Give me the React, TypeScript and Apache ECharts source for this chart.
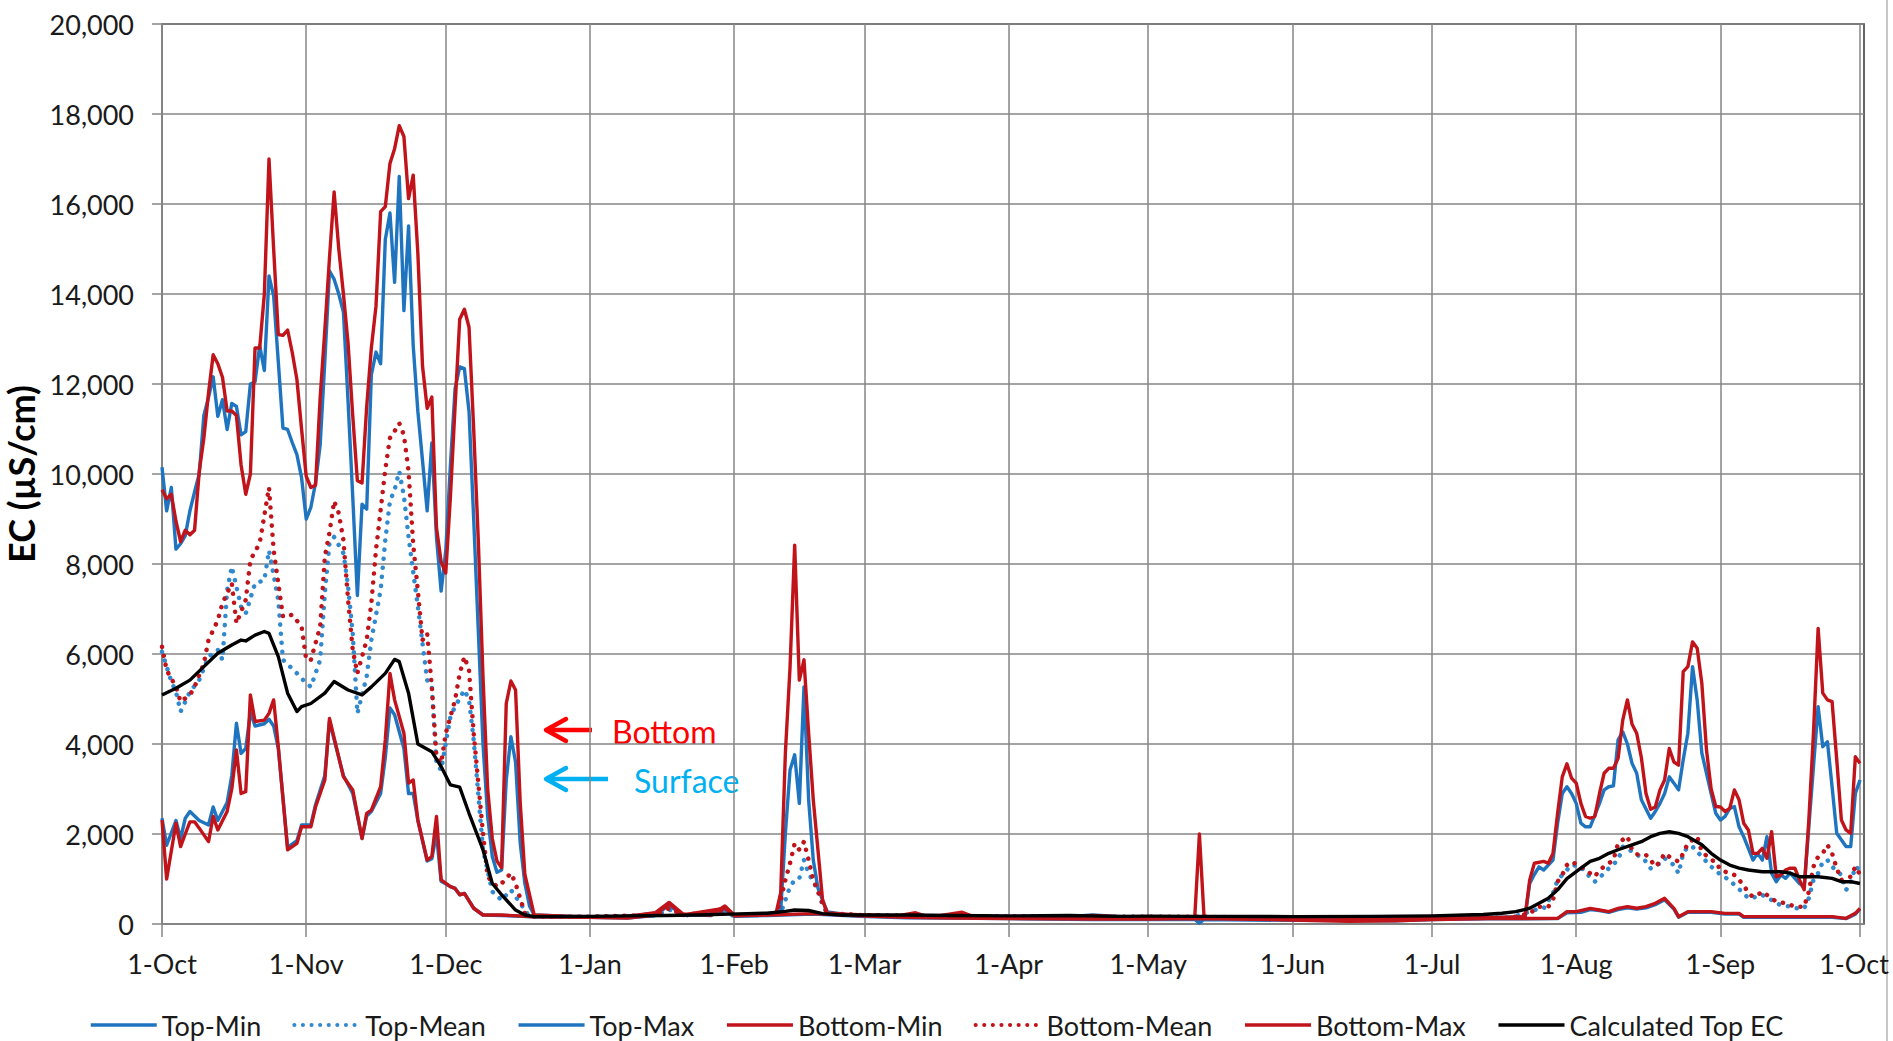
import React, { useEffect, useRef } from 'react';
import * as echarts from 'echarts';

const FONT = 'Lato, "Liberation Sans", sans-serif';

// x positions are day numbers counted from 1-Oct (0) to the next 1-Oct (365)
const monthTickDays = [0, 31, 61, 92, 123, 151, 182, 212, 243, 273, 304, 335, 365];
const monthTickLabels = ['1-Oct', '1-Nov', '1-Dec', '1-Jan', '1-Feb', '1-Mar', '1-Apr', '1-May', '1-Jun', '1-Jul', '1-Aug', '1-Sep', '1-Oct'];
const seriesNames = ['Top-Min', 'Top-Mean', 'Top-Max', 'Bottom-Min', 'Bottom-Mean', 'Bottom-Max', 'Calculated Top EC'];

const topMin: [number, number][] = [
  [0, 2350], [1, 1750], [3, 2300], [4, 1900], [5, 2350], [6, 2500], [7, 2400], [8, 2300], [10, 2200], [11, 2600], [12, 2300], [14, 2700], [15, 3300], [16, 4460], [17, 3790], [18, 3900], [19, 4700], [20, 4400], [22, 4450], [23, 4550], [24, 4400], [25, 3900], [27, 1700], [29, 1850], [30, 2200], [32, 2200], [33, 2650], [35, 3300], [36, 4500], [39, 3300], [41, 2900], [43, 1900], [44, 2400], [45, 2500], [47, 2900], [48, 3700], [49, 4800], [50, 4650], [52, 3900], [53, 2900], [54, 2900], [55, 2300], [57, 1400], [58, 1450], [59, 2000], [60, 950], [62, 830], [63, 790], [64, 650], [65, 680], [67, 350], [69, 200], [73, 190], [80, 160],
  [92, 150], [100, 130], [106, 190], [109, 420], [112, 190], [121, 320], [123, 170], [130, 190], [140, 220], [150, 170], [160, 140], [182, 120], [200, 100], [212, 100], [222, 100], [223, 20], [224, 100], [243, 80], [265, 70], [273, 100], [285, 115], [300, 120],
  [302, 250], [305, 260], [307, 320], [309, 300], [311, 260], [313, 320], [315, 360], [317, 330], [319, 360], [321, 430], [323, 540], [325, 330], [326, 150], [328, 260], [330, 260], [333, 260], [336, 220], [339, 220], [340, 150], [351, 150], [359, 150], [362, 120], [364, 220], [365, 330],
];

const topMean: [number, number][] = [
  [0, 6050], [2, 5390], [3, 5160], [4, 4720], [6, 5160], [8, 5420], [10, 5940], [12, 6090], [13, 5870], [14, 7420], [15, 7940], [17, 7050], [18, 6900], [20, 7570], [22, 7640], [23, 8300], [25, 7200], [26, 5870], [29, 5570], [31, 5350], [32, 5270], [34, 5870], [35, 7350], [36, 8460], [37, 8600], [39, 8240], [40, 7500], [41, 6460], [42, 4680], [44, 5500], [45, 6310], [47, 7420], [48, 8530], [49, 9400], [50, 9650], [51, 10060], [52, 9510], [53, 8600], [55, 7050], [57, 5420], [58, 5270], [59, 3570], [60, 3420], [62, 4610], [63, 4830], [65, 5200], [66, 4980], [67, 4090], [69, 1650], [71, 720], [73, 530], [75, 760], [77, 460], [79, 165],
  [92, 160], [106, 190], [109, 320], [112, 190], [121, 260], [123, 180], [133, 240], [134, 534], [135, 830], [136, 978], [137, 1015], [138, 1422], [139, 1126], [141, 756], [142, 423], [143, 237], [150, 190], [170, 170], [200, 160], [222, 150], [223, 20], [224, 150], [250, 130], [273, 130], [290, 140],
  [295, 311], [297, 348], [299, 682], [300, 978], [302, 1200], [303, 1311], [305, 1274], [306, 1126], [307, 1052], [308, 941], [310, 1126], [311, 1237], [313, 1422], [314, 1719], [315, 1682], [317, 1534], [318, 1497], [319, 1385], [320, 1237], [322, 1348], [323, 1460], [325, 1311], [326, 1126], [327, 1570], [328, 1719], [329, 1719], [331, 1497], [333, 1274], [334, 1200], [335, 1089], [337, 978], [338, 867], [340, 682], [341, 571], [343, 608], [344, 645], [346, 534], [347, 460], [348, 423], [350, 386], [351, 349], [353, 349], [354, 571], [355, 978], [356, 1126], [357, 1385], [358, 1422], [359, 1274], [361, 1089], [362, 756], [363, 904], [364, 1274], [365, 1200],
];

const topMax: [number, number][] = [
  [0, 10150], [1, 9180], [2, 9700], [3, 8330], [4, 8450], [5, 8630], [6, 9180], [7, 9600], [8, 10000], [9, 11300], [10, 11700], [11, 12160], [12, 11280], [13, 11650], [14, 10990], [15, 11570], [16, 11500], [17, 10870], [18, 10940], [19, 12000], [20, 12050], [21, 12850], [22, 12300], [23, 14400], [24, 13960], [25, 12490], [26, 11020], [27, 10990], [28, 10700], [29, 10430], [30, 9920], [31, 9000], [32, 9260], [33, 9800], [34, 10650], [35, 12500], [36, 14510], [37, 14330], [38, 14000], [39, 13600], [40, 11610], [41, 9500], [42, 7300], [43, 9330], [44, 9220], [45, 12200], [46, 12710], [47, 12450], [48, 15210], [49, 15800], [50, 14260], [51, 16610], [52, 13630], [53, 15510], [54, 12850], [55, 11390], [56, 10300], [57, 9180], [58, 10690], [59, 8600], [60, 7400], [61, 8300], [62, 10200], [63, 11900], [64, 12380], [65, 12340], [66, 11390], [67, 9000], [68, 6500], [69, 4000], [70, 2400], [71, 1500], [72, 1150], [73, 1200], [74, 3200], [75, 4160], [76, 3600], [77, 1800], [78, 900], [79, 400], [80, 200],
  [88, 170], [92, 160], [100, 170], [106, 240], [109, 430], [112, 210], [118, 190], [121, 350], [123, 190], [128, 190], [132, 250], [133, 310], [134, 2015], [135, 3420], [136, 3760], [137, 2680], [138, 5270], [139, 2760], [140, 1420], [141, 800], [142, 530], [143, 270], [147, 210], [151, 190], [160, 180], [170, 160], [182, 150], [195, 160], [200, 200], [210, 140], [222, 140], [223, 30], [224, 140], [240, 120], [260, 100], [280, 130], [293, 160],
  [294, 900], [295, 1100], [296, 1270], [297, 1200], [299, 1420], [300, 2240], [301, 2900], [302, 3050], [303, 2900], [304, 2680], [305, 2240], [306, 2160], [307, 2160], [309, 2680], [310, 2980], [311, 3050], [312, 3070], [313, 4090], [314, 4270], [315, 4000], [316, 3570], [317, 3350], [318, 2760], [320, 2350], [321, 2500], [322, 2680], [323, 2900], [324, 3270], [325, 3130], [326, 2980], [327, 3650], [328, 4240], [329, 5720], [330, 4980], [331, 3800], [333, 2900], [334, 2460], [335, 2310], [336, 2390], [337, 2570], [338, 2610], [339, 2160], [340, 1940], [342, 1420], [343, 1570], [344, 1420], [345, 1940], [346, 1130], [347, 940], [348, 1090], [349, 1015], [350, 1130], [352, 900], [353, 830], [354, 2160], [355, 3500], [356, 4830], [357, 3940], [358, 4050], [359, 3050], [360, 2015], [362, 1720], [363, 1720], [364, 2900], [365, 3200],
];

const bottomMin: [number, number][] = [
  [0, 2310], [1, 1000], [3, 2240], [4, 1720], [5, 2000], [6, 2270], [7, 2270], [8, 2130], [10, 1830], [11, 2390], [12, 2090], [14, 2500], [15, 3000], [16, 3870], [17, 2900], [18, 2940], [19, 5090], [20, 4500], [22, 4530], [23, 4680], [24, 4980], [25, 3940], [27, 1650], [29, 1790], [30, 2160], [32, 2160], [33, 2600], [35, 3200], [36, 4570], [39, 3270], [41, 2980], [43, 1900], [44, 2460], [45, 2530], [47, 3050], [48, 4090], [49, 5570], [50, 4980], [52, 4240], [53, 3130], [54, 3200], [55, 2310], [57, 1420], [58, 1500], [59, 2390], [60, 980], [62, 830], [63, 790], [64, 650], [65, 680], [67, 350], [69, 200], [73, 200], [80, 160],
  [92, 150], [100, 130], [106, 200], [109, 450], [112, 200], [121, 350], [123, 180], [130, 200], [140, 230], [150, 180], [160, 150], [170, 130], [182, 120], [200, 110], [212, 110], [223, 120], [243, 90], [255, 60], [265, 70], [273, 100], [285, 120], [300, 126],
  [302, 274], [304, 274], [307, 348], [309, 311], [311, 274], [313, 348], [315, 385], [317, 349], [319, 386], [321, 460], [323, 571], [325, 349], [326, 163], [328, 274], [330, 274], [333, 274], [336, 237], [339, 237], [340, 163], [351, 163], [359, 163], [362, 126], [364, 237], [365, 349],
];

const bottomMean: [number, number][] = [
  [0, 6160], [1, 5640], [3, 5270], [4, 4940], [6, 5090], [7, 5270], [9, 5790], [10, 6310], [12, 6750], [13, 7130], [15, 7570], [16, 6680], [18, 7200], [19, 8090], [21, 8460], [23, 9700], [24, 8310], [26, 6830], [28, 6870], [30, 6610], [31, 5870], [32, 5870], [34, 6610], [35, 8160], [36, 8700], [37, 9400], [38, 9130], [39, 8530], [40, 7200], [41, 6090], [42, 5570], [44, 6310], [45, 7130], [46, 8310], [47, 9200], [48, 10100], [49, 10800], [50, 10950], [51, 11130], [52, 10870], [53, 10060], [54, 8440], [55, 7400], [56, 6310], [57, 6460], [58, 5270], [59, 3720], [60, 3570], [61, 4240], [63, 4980], [64, 5570], [65, 5940], [66, 5640], [67, 4240], [69, 2015], [70, 1050], [72, 830], [73, 900], [75, 1130], [76, 900], [78, 240], [80, 165],
  [92, 160], [106, 200], [109, 350], [112, 200], [121, 300], [123, 190], [132, 230], [133, 534], [134, 980], [135, 1350], [136, 1790], [137, 1650], [138, 1830], [139, 1420], [140, 980], [142, 460], [143, 237], [150, 200], [170, 170], [200, 160], [223, 160], [250, 130], [273, 130], [290, 140],
  [294, 237], [296, 385], [298, 385], [299, 534], [300, 941], [301, 1089], [302, 1311], [303, 1385], [305, 1274], [306, 1200], [308, 1052], [309, 1200], [310, 1274], [312, 1422], [313, 1793], [315, 1950], [316, 1650], [317, 1550], [318, 1534], [319, 1534], [320, 1422], [321, 1274], [322, 1385], [323, 1570], [324, 1497], [325, 1440], [326, 1385], [327, 1570], [328, 1793], [329, 1867], [330, 1941], [331, 1608], [333, 1422], [334, 1385], [335, 1200], [337, 1126], [338, 1089], [340, 867], [341, 682], [342, 608], [343, 645], [344, 719], [346, 571], [347, 497], [349, 460], [350, 423], [351, 386], [353, 386], [354, 719], [355, 1274], [356, 1497], [357, 1570], [358, 1756], [359, 1570], [360, 1237], [361, 978], [363, 1052], [364, 1274], [365, 1100],
];

const bottomMax: [number, number][] = [
  [0, 9650], [1, 9450], [2, 9550], [3, 8950], [4, 8500], [5, 8750], [6, 8650], [7, 8750], [8, 10050], [9, 10800], [10, 11800], [11, 12650], [12, 12450], [13, 12150], [14, 11400], [15, 11400], [16, 11300], [17, 10200], [18, 9550], [19, 10000], [20, 12800], [21, 12800], [22, 14000], [23, 17000], [24, 15000], [25, 13100], [26, 13080], [27, 13200], [28, 12700], [29, 12100], [30, 11000], [31, 9950], [32, 9700], [33, 9750], [34, 11700], [35, 13200], [36, 14800], [37, 16270], [38, 15000], [39, 14000], [40, 12900], [41, 11300], [42, 9850], [43, 9800], [44, 11500], [45, 12800], [46, 13730], [47, 15830], [48, 15940], [49, 16900], [50, 17230], [51, 17740], [52, 17500], [53, 16120], [54, 16640], [55, 14900], [56, 12400], [57, 11460], [58, 11710], [59, 8810], [60, 8050], [61, 7800], [62, 9500], [63, 11500], [64, 13440], [65, 13660], [66, 13260], [67, 11000], [68, 8500], [69, 5500], [70, 3000], [71, 1900], [72, 1400], [73, 1250], [74, 4900], [75, 5400], [76, 5200], [77, 2700], [78, 1100], [79, 650], [80, 200],
  [88, 170], [92, 160], [100, 170], [106, 250], [109, 480], [112, 220], [118, 200], [121, 400], [123, 200], [128, 200], [132, 240], [133, 700], [134, 3800], [135, 5700], [136, 8420], [137, 5420], [138, 5870], [139, 4240], [140, 2760], [141, 1650], [142, 530], [143, 240], [147, 220], [151, 200], [158, 180], [162, 250], [165, 150], [172, 260], [175, 140], [182, 150], [190, 130], [200, 190], [210, 140], [222, 150], [223, 2000], [224, 150], [235, 120], [243, 110], [250, 90], [260, 100], [270, 120], [280, 130], [290, 150], [293, 160],
  [294, 980], [295, 1350], [297, 1390], [298, 1350], [299, 1570], [300, 2460], [301, 3270], [302, 3560], [303, 3240], [304, 3130], [305, 2680], [306, 2390], [307, 2350], [308, 2390], [309, 2900], [310, 3350], [311, 3460], [312, 3460], [313, 3680], [314, 4530], [315, 4980], [316, 4440], [317, 4240], [318, 3700], [319, 2900], [320, 2550], [321, 2600], [322, 2980], [323, 3200], [324, 3900], [325, 3600], [326, 3530], [327, 5610], [328, 5720], [329, 6270], [330, 6130], [331, 5350], [332, 3870], [333, 3000], [334, 2610], [335, 2600], [336, 2500], [337, 2570], [338, 2980], [339, 2760], [340, 2240], [341, 2090], [342, 1570], [343, 1570], [344, 1680], [345, 1460], [346, 2050], [347, 1050], [348, 1090], [349, 1200], [350, 1240], [351, 1240], [352, 980], [353, 760], [354, 2310], [355, 4240], [356, 6570], [357, 5130], [358, 4980], [359, 4940], [360, 3650], [361, 2310], [362, 2090], [363, 2015], [364, 3720], [365, 3570],
];

const calculatedTop: [number, number][] = [
  [0, 5090], [3, 5240], [6, 5420], [9, 5720], [12, 6015], [15, 6200], [17, 6310], [18, 6290], [20, 6420], [22, 6500], [23, 6460], [25, 5940], [27, 5130], [29, 4720], [30, 4830], [32, 4900], [35, 5130], [37, 5390], [40, 5200], [43, 5090], [45, 5270], [48, 5570], [50, 5880], [51, 5830], [53, 5130], [55, 4000], [58, 3830], [60, 3500], [62, 3090], [64, 3040], [66, 2460], [69, 1650], [71, 900], [73, 650], [76, 310], [78, 200], [80, 165],
  [92, 170], [100, 180], [108, 190], [115, 200], [122, 220], [130, 240], [134, 280], [136, 310], [139, 300], [142, 230], [146, 200], [151, 200], [160, 200], [170, 190], [182, 180], [195, 190], [205, 170], [212, 175], [223, 170], [243, 165], [260, 170], [273, 180], [280, 200], [284, 210],
  [288, 240], [291, 275], [294, 350], [296, 460], [298, 570], [300, 760], [302, 1010], [305, 1240], [307, 1390], [309, 1460], [311, 1570], [313, 1650], [316, 1760], [318, 1830], [320, 1940], [322, 2015], [324, 2050], [326, 2015], [328, 1940], [331, 1760], [333, 1570], [335, 1420], [337, 1310], [339, 1240], [341, 1200], [344, 1160], [348, 1160], [350, 1130], [352, 1050], [356, 1050], [359, 1015], [361, 940], [363, 940], [365, 900],
];

const seriesData = [topMin, topMean, topMax, bottomMin, bottomMean, bottomMax, calculatedTop];
const seriesColors = ['#1F74C0', '#3189CF', '#1F74C0', '#C0141A', '#C0141A', '#C0141A', '#000000'];
const seriesDotted = [false, true, false, false, true, false, false];

const fmtThousands = (v: number) => String(v).replace(/\B(?=(\d{3})+(?!\d))/g, ',');

export default function App() {
  const ref = useRef<HTMLDivElement>(null);
  useEffect(() => {
    const chart = echarts.init(ref.current as HTMLDivElement, undefined, { renderer: 'svg' });
    const series = seriesNames.map((name, i) => ({
      name,
      type: 'line',
      data: seriesData[i],
      symbol: 'none',
      showSymbol: false,
      silent: true,
      emphasis: { disabled: true },
      itemStyle: { color: seriesColors[i] },
      lineStyle: seriesDotted[i]
        ? { color: seriesColors[i], width: 4.5, type: [0.1, 9], cap: 'round', join: 'round' }
        : { color: seriesColors[i], width: 3.4, join: 'round' },
    }));
    const legendData = seriesNames.map((name, i) => ({
      name,
      lineStyle: seriesDotted[i]
        ? { color: seriesColors[i], width: 4, type: [0.1, 8.5], cap: 'round' }
        : { color: seriesColors[i], width: 3.5, type: 'solid' },
    }));
    chart.setOption({
      animation: false,
      backgroundColor: '#ffffff',
      textStyle: { fontFamily: FONT },
      grid: {
        left: 162, top: 24, width: 1702, height: 900,
        show: true, borderColor: '#333333', borderWidth: 1.5,
        containLabel: false, outerBoundsMode: 'none',
      },
      xAxis: {
        type: 'value',
        min: 0,
        max: 365.86,
        axisLine: { show: true, onZero: false, lineStyle: { color: '#868686', width: 1.5 } },
        axisTick: { show: true, length: 13, customValues: monthTickDays, lineStyle: { color: '#868686', width: 1.5 } },
        axisLabel: {
          customValues: monthTickDays,
          margin: 26,
          fontSize: 27,
          fontFamily: FONT,
          color: '#1a1a1a',
          formatter: (v: number) => {
            const i = monthTickDays.indexOf(Math.round(v));
            if (i < 0) return '';
            return i === monthTickDays.length - 1 ? '{last|' + monthTickLabels[i] + '}' : monthTickLabels[i];
          },
          rich: { last: { fontSize: 27, fontFamily: FONT, color: '#1a1a1a', padding: [0, 12, 0, 0] } },
        },
        splitLine: { show: true, lineStyle: { color: '#868686', width: 1.5 } },
      },
      yAxis: {
        type: 'value',
        min: 0,
        max: 20000,
        interval: 2000,
        name: 'EC (µS/cm)',
        nameLocation: 'middle',
        nameGap: 118,
        nameTextStyle: { fontSize: 36, fontWeight: 'bold', fontFamily: FONT, color: '#000' },
        axisLine: { show: true, lineStyle: { color: '#868686', width: 1.5 } },
        axisTick: { show: true, length: 10, lineStyle: { color: '#868686', width: 1.5 } },
        axisLabel: { margin: 28, fontSize: 27, fontFamily: FONT, color: '#1a1a1a', formatter: (v: number) => fmtThousands(v) },
        splitLine: { show: true, lineStyle: { color: '#868686', width: 1.5 } },
      },
      legend: {
        data: legendData,
        left: 84,
        top: 1006,
        itemWidth: 66,
        itemHeight: 14,
        itemGap: 31,
        itemStyle: { opacity: 0, color: 'rgba(0,0,0,0)', borderWidth: 0 },
        textStyle: { fontSize: 27, fontFamily: FONT, color: '#1a1a1a', lineHeight: 28 },
        selectedMode: false,
      },
      graphic: [
        { type: 'line', shape: { x1: 1887, y1: 0, x2: 1887, y2: 1041 }, style: { stroke: '#c8c8c8', lineWidth: 2 } },
        { type: 'line', shape: { x1: 592, y1: 730, x2: 548, y2: 730 }, style: { stroke: '#FF0000', lineWidth: 4.5 } },
        { type: 'polyline', shape: { points: [[566, 719], [546, 730], [566, 741]] }, style: { stroke: '#FF0000', lineWidth: 4.5, fill: 'none', lineJoin: 'round', lineCap: 'round' } },
        { type: 'text', x: 612, y: 731, style: { text: 'Bottom', fontSize: 32, fontFamily: FONT, fill: '#FF0000', verticalAlign: 'middle' } },
        { type: 'line', shape: { x1: 608, y1: 779, x2: 548, y2: 779 }, style: { stroke: '#00B0F0', lineWidth: 4.5 } },
        { type: 'polyline', shape: { points: [[566, 768], [546, 779], [566, 790]] }, style: { stroke: '#00B0F0', lineWidth: 4.5, fill: 'none', lineJoin: 'round', lineCap: 'round' } },
        { type: 'text', x: 634, y: 780, style: { text: 'Surface', fontSize: 32, fontFamily: FONT, fill: '#00B0F0', verticalAlign: 'middle' } },
      ],
      series,
    });
    return () => chart.dispose();
  }, []);
  return <div ref={ref} style={{ position: 'fixed', left: 0, top: 0, width: 1893, height: 1041, background: '#fff' }} />;
}
